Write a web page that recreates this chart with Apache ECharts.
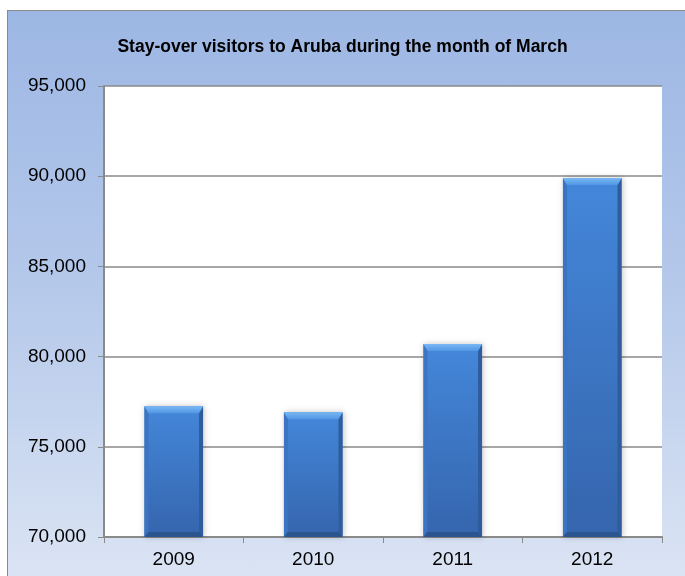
<!DOCTYPE html>
<html><head><meta charset="utf-8">
<script src="https://cdn.jsdelivr.net/npm/echarts@6/dist/echarts.min.js"></script>
<style>
html,body{margin:0;padding:0;width:685px;height:576px;overflow:hidden;background:#fff;}
#bg{position:absolute;left:7px;top:10px;width:700px;height:600px;border:1px solid #8a8a8a;
background:linear-gradient(to bottom,#9db7e4 0%,#b4c8ea 45%,#dfe7f5 100%);}
#c{position:absolute;left:0;top:0;width:685px;height:576px;}
</style></head>
<body><div id="bg"></div><div id="c"></div>
<script>
const categories = ['2009','2010','2011','2012'];
const visitors = [77250, 76920, 80700, 89900];
const yTicks = {min:70000, max:95000, step:5000};
const chart = echarts.init(document.getElementById('c'), null, {renderer:'canvas'});
const FONT = 'Liberation Sans, Arial';
function renderBar(params, api){
  const idx = api.value(0), val = api.value(1);
  const topPt = api.coord([idx, val]);
  const basePt = api.coord([idx, yTicks.min]);
  const w = api.size([1,0])[0]*0.42;
  const l = topPt[0]-w/2, r = topPt[0]+w/2, t = topPt[1], b = basePt[1];
  const s = 4, tb = 7, bb = 5;
  return {type:'group', children:[
    {type:'rect', shape:{x:l,y:t,width:w,height:b-t},
      style:{fill:new echarts.graphic.LinearGradient(0,0,0,1,[{offset:0,color:'#4487da'},{offset:1,color:'#3565ad'}]),
        shadowColor:'rgba(0,0,0,0.22)',shadowBlur:6,shadowOffsetX:1,shadowOffsetY:0}},
    {type:'polygon', shape:{points:[[l,t],[l+s,t+tb],[l+s,b-bb],[l,b]]}, style:{fill:'#3a74c2'}},
    {type:'polygon', shape:{points:[[r,t],[r-s,t+tb],[r-s,b-bb],[r,b]]}, style:{fill:'#2e5c9c'}},
    {type:'polygon', shape:{points:[[l,b],[l+s,b-bb],[r-s,b-bb],[r,b]]}, style:{fill:'#2b558f'}},
    {type:'polygon', shape:{points:[[l,t],[r,t],[r-s,t+tb],[l+s,t+tb]]},
      style:{fill:new echarts.graphic.LinearGradient(0,0,0,1,[{offset:0,color:'#7ab8f4'},{offset:1,color:'#5297e4'}])}}
  ]};
}
chart.setOption({
  backgroundColor:'transparent',
  title:{text:'Stay-over visitors to Aruba during the month of March',left:'center',top:33,
    textStyle:{fontFamily:FONT,fontSize:17.5,fontWeight:'bold',color:'#000'}},
  grid:{left:104,right:23,top:86,bottom:39,containLabel:false,show:true,backgroundColor:'#ffffff',borderWidth:0},
  xAxis:{type:'category',data:categories,
    axisLine:{lineStyle:{color:'#8a8a8a',width:2}},
    axisTick:{show:true,length:6,lineStyle:{color:'#8a8a8a'}},
    axisLabel:{fontFamily:FONT,fontSize:19,color:'#000',margin:13}},
  yAxis:{type:'value',min:yTicks.min,max:yTicks.max,interval:yTicks.step,
    axisLine:{show:true,lineStyle:{color:'#8a8a8a',width:2}},
    axisTick:{show:true,length:6,lineStyle:{color:'#8a8a8a'}},
    splitLine:{lineStyle:{color:'#8a8a8a',width:1.5}},
    axisLabel:{fontFamily:FONT,fontSize:19,color:'#000',margin:18,
      formatter:v=>v.toLocaleString('en-US')}},
  series:[{type:'custom',renderItem:renderBar,encode:{x:0,y:1},
    data:visitors.map((v,i)=>[i,v])}]
});
</script></body></html>
